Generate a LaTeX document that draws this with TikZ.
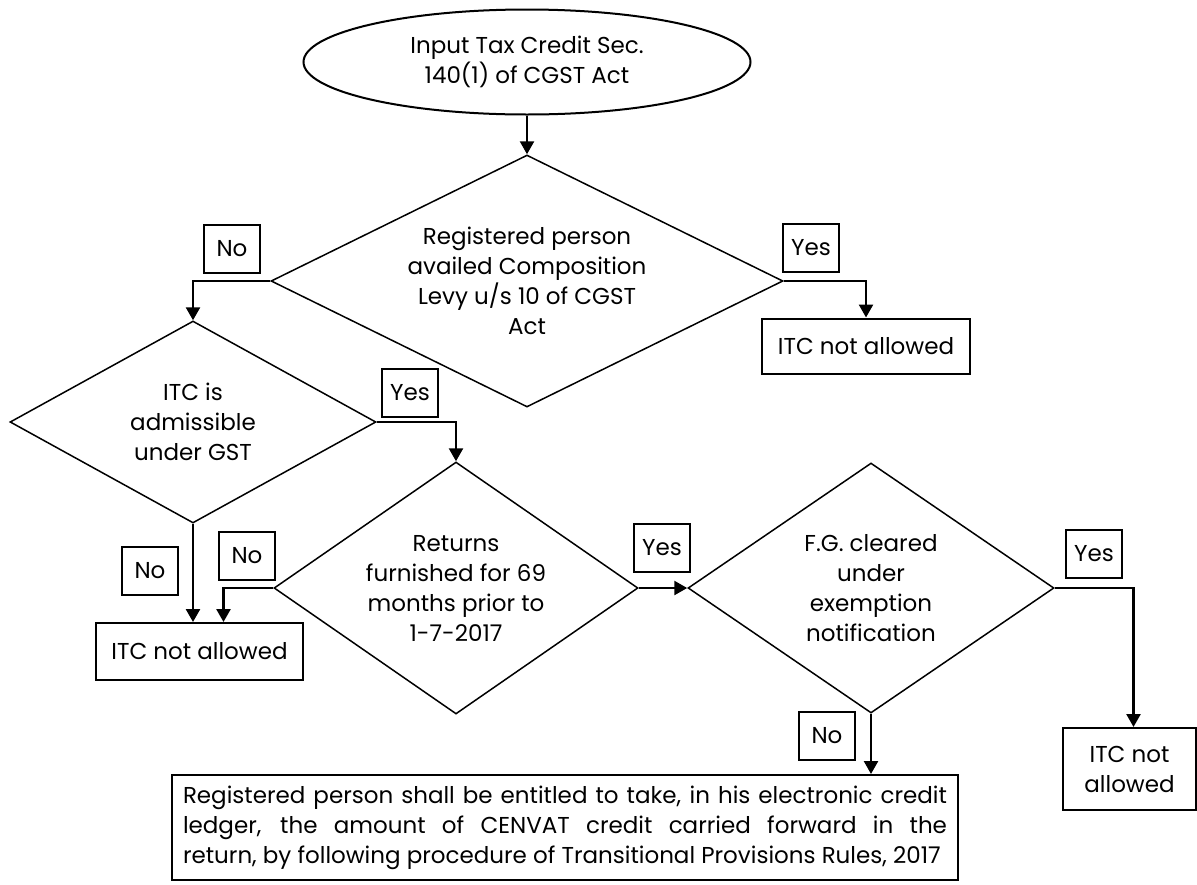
\documentclass[tikz,border=0pt]{standalone}
\usepackage{fontspec}
\setmainfont{Poppins}
\usetikzlibrary{shapes.geometric,arrows.meta}
\begin{document}
\begin{tikzpicture}[x=1pt,y=-1pt,
    every node/.style={font=\fontsize{23}{30}\selectfont, align=center},
    decision/.style={diamond, draw, line width=1.5pt, inner sep=-10pt},
    outcome/.style={rectangle, draw, line width=2pt, inner sep=0pt},
    answer/.style={rectangle, draw, line width=2pt, minimum width=56, minimum height=48, inner sep=0pt},
    flow/.style={line width=2.5pt, -{Triangle[width=14pt,length=13pt]}}]
    \useasboundingbox (0,0) rectangle (1197,884);

    % Start
    \node[ellipse, draw, line width=2pt, minimum width=447, minimum height=105, inner sep=0pt] (start) at (527,62) {Input Tax Credit Sec.\\140(1) of CGST Act};

    % Composition levy
    \node[decision, minimum width=512, minimum height=252, shape aspect=2.03] (levy) at (527,281) {Registered person\\availed Composition\\Levy u/s 10 of CGST\\Act};
    \node[answer] (levyno) at (232,249) {No};
    \node[answer] (levyyes) at (811,248) {Yes};
    \node[outcome, minimum width=208, minimum height=55] (itcA) at (866,346) {ITC not allowed};

    % Admissible under GST
    \node[decision, minimum width=366, minimum height=202, shape aspect=1.81] (admit) at (193,422) {ITC is\\admissible\\under GST};
    \node[answer] (admityes) at (410,393) {Yes};
    \node[answer] (admitno) at (150,571) {No};
    \node[outcome, minimum width=207, minimum height=57] (itcB) at (199.5,651.5) {ITC not allowed};

    % Returns furnished
    \node[decision, minimum width=364, minimum height=252, shape aspect=1.44] (returns) at (456,588) {Returns\\furnished for 69\\months prior to\\1-7-2017};
    \node[answer] (returnsno) at (247,556) {No};
    \node[answer] (returnsyes) at (662,548) {Yes};

    % Exemption notification
    \node[decision, minimum width=366, minimum height=250, shape aspect=1.46] (exempt) at (871,588) {F.G. cleared\\under\\exemption\\notification};
    \node[answer] (exemptyes) at (1094,554) {Yes};
    \node[answer] (exemptno) at (827,736) {No};
    \node[outcome, minimum width=133, minimum height=82] (itcC) at (1129.5,769) {ITC not\\allowed};

    % Transitional provisions
    \node[outcome, inner xsep=11pt, text width=764, minimum height=105, align=justify] (rules) at (565,827.5) {Registered person shall be entitled to take, in his electronic credit\linebreak ledger, the amount of CENVAT credit carried forward in the\linebreak return, by following procedure of Transitional Provisions Rules, 2017};

    % Connectors
    \draw[flow] (start) -- (levy.north);
    \draw[flow] (levy.west) -| (admit.north);
    \draw[flow] (levy.east) -| (itcA.north);
    \draw[flow] (admit.east) -| (returns.north);
    \draw[flow] (admit.south) -- (admit.south |- itcB.north);
    \draw[flow] (returns.west) -| ([xshift=24pt]itcB.north);
    \draw[flow] (returns.east) -- (exempt.west);
    \draw[flow] (exempt.east) -| ([xshift=4pt]itcC.north);
    \draw[flow] (exempt.south) -- (exempt.south |- rules.north);
\end{tikzpicture}
\end{document}
